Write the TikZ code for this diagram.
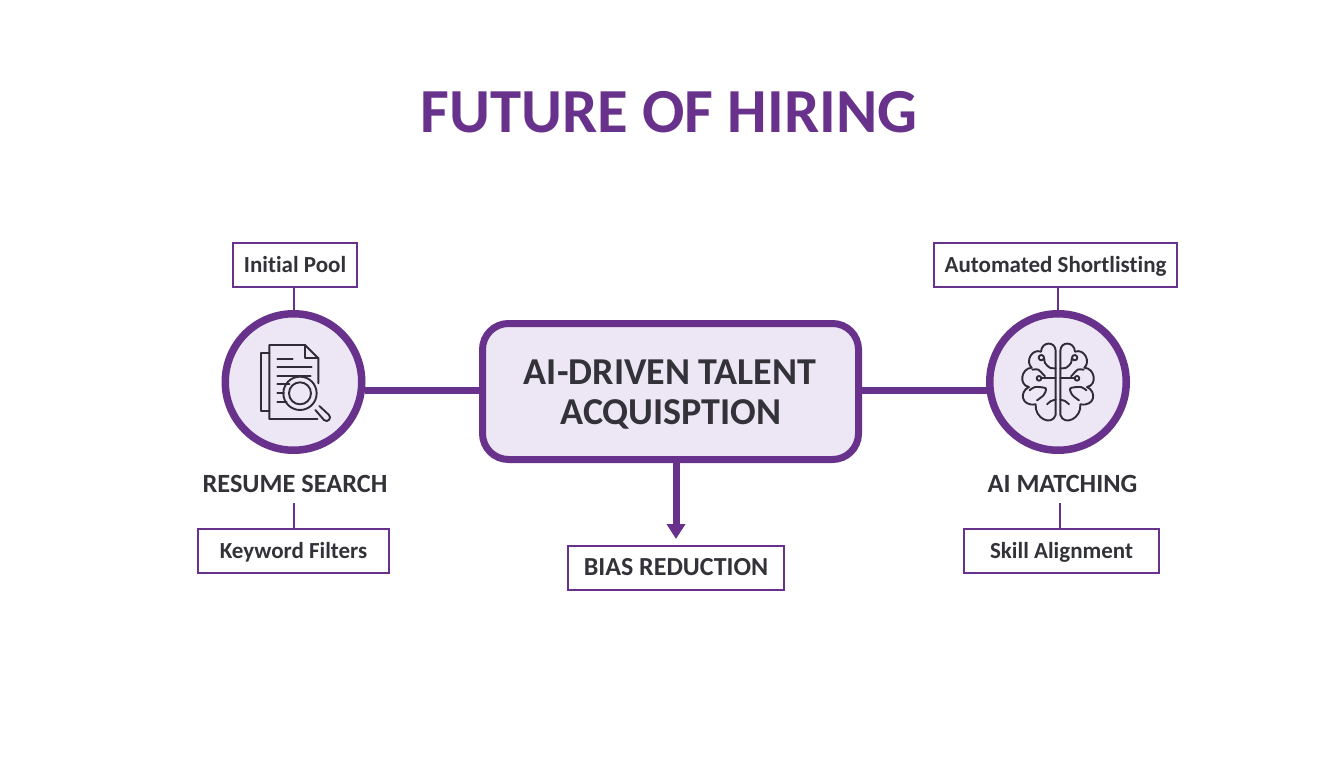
\documentclass[tikz,border=0pt]{standalone}
\usepackage{fontspec}
\setmainfont[Ligatures=CommonOff]{Carlito}
\usetikzlibrary{arrows.meta}
\definecolor{hpurple}{HTML}{68328C}
\definecolor{hfill}{HTML}{ECE6F5}
\definecolor{htext}{HTML}{333238}
\definecolor{hicon}{HTML}{2F2C38}
\newcommand{\fs}[1]{\fontsize{#1}{#1}\selectfont\bfseries}
\newcommand{\brainhalf}{%
  \draw (122,240) -- (122,48) .. controls (122,18) and (80,18) .. (78,50)
     .. controls (50,40) and (30,80) .. (50,98)
     .. controls (18,100) and (10,150) .. (42,156)
     .. controls (12,170) and (18,215) .. (62,208)
     .. controls (58,250) and (110,275) .. (122,240);
  \draw plot[smooth,tension=0.5] coordinates {(122,100) (104,98) (90,84) (88,72)};
  \draw (79,68) circle (8);
  \draw plot[smooth,tension=0.5] coordinates {(52,104) (70,104) (84,118) (90,124)};
  \draw (72,130) circle (7);
  \draw (80,130) -- (122,130);
  \draw plot[smooth,tension=0.5] coordinates {(44,166) (60,156) (92,160) (86,180) (66,196)};
  \draw plot[smooth,tension=0.5] coordinates {(96,208) (108,198) (122,194)};
}
\tikzset{
  lbl/.style={draw=hpurple,line width=2pt,fill=white,text=htext,minimum height=44pt,inner sep=0pt,text height=15pt,text depth=0pt,font=\fs{23}},
  hub/.style={circle,draw=hpurple,line width=7.5pt,fill=hfill,minimum size=136.5pt,inner sep=0pt},
  mainbox/.style={draw=hpurple,line width=7pt,fill=hfill,rounded corners=26pt,minimum width=376pt,minimum height=136pt,inner sep=0pt},
  maintext/.style={text=htext,inner sep=0pt,text height=24.5pt,text depth=0pt,font=\fs{38}},
  captext/.style={text=htext,inner sep=0pt,font=\fs{26.3}},
  thicklink/.style={draw=hpurple,line width=7pt},
  thinlink/.style={draw=hpurple,line width=2pt},
  iconline/.style={draw=hicon,line width=1.9pt,line cap=round,line join=round}
}
\begin{document}
\begin{tikzpicture}[x=1pt,y=-1pt]
\useasboundingbox (0,0) rectangle (1344,768);
\fill[white] (0,0) rectangle (1344,768);
\node[text=hpurple,inner sep=0pt,font=\fs{62.7}] (title) at (669,112) {FUTURE OF HIRING};
\node[mainbox] (core) at (670.5,391.5) {};
\node[maintext] (coreline1) at (670,372) {AI-DRIVEN TALENT};
\node[maintext] (coreline2) at (671,412) {ACQUISPTION};
\node[hub] (left) at (293.5,382) {};
\node[hub] (right) at (1058,382) {};
\node[lbl,minimum width=124pt] (pool) at (295,264.5) {Initial Pool};
\node[lbl,minimum width=243pt] (short) at (1055.5,264.5) {Automated Shortlisting};
\node[captext] (resume) at (295,483.5) {RESUME SEARCH};
\node[captext] (match) at (1062.5,483.5) {AI MATCHING};
\node[lbl,minimum width=191pt] (keys) at (293.5,550.5) {Keyword Filters};
\node[lbl,minimum width=195pt] (skill) at (1061.5,551) {Skill Alignment};
\node[lbl,minimum width=216pt,text height=16.5pt,font=\fs{26}] (bias) at (676,567.5) {BIAS REDUCTION};
\coordinate (biastip) at (676,539);
\coordinate (resumefoot) at (293.5,503);
\coordinate (matchfoot) at (1060,503);
\draw[thicklink] (left.-7) -- (left.-7 -| core.west);
\draw[thicklink] (right.187) -- (right.187 -| core.east);
\draw[thicklink,-{Triangle[length=15pt,width=18pt]}] (core.south -| biastip) -- (biastip);
\draw[thinlink] (pool.south -| left.north) -- (left.north);
\draw[thinlink] (short.south -| right.north) -- (right.north);
\draw[thinlink] (resumefoot) -- (resumefoot |- keys.north);
\draw[thinlink] (matchfoot) -- (matchfoot |- skill.north);
% document and magnifier icon
\begin{scope}[shift={(190,230)},x=0.3333pt,y=-0.3333pt,iconline]
  \draw (238,368) -- (214,368) -- (214,542) -- (238,542);
  \draw (385,460) -- (385,385) -- (345,345) -- (238,345) -- (238,567) -- (382,567);
  \draw (345,345) -- (345,385) -- (385,385);
  \draw (262,387) -- (308,387);
  \draw (262,412) -- (365,412);
  \draw (262,437) -- (362,437);
  \draw (262,462) -- (298,462);
  \draw (262,490) -- (282,490);
  \draw (262,517) -- (290,517);
  \draw (330,490) circle (50);
  \draw (330,490) circle (33);
  \draw (376,540) -- (402,570) .. controls (412,580) and (428,564) .. (416,554) -- (388,528);
\end{scope}
% brain icon
\begin{scope}[shift={(1015,335)},x=0.3333pt,y=-0.3333pt,iconline]
  \brainhalf
\end{scope}
\begin{scope}[shift={(1101,335)},x=-0.3333pt,y=-0.3333pt,iconline]
  \brainhalf
\end{scope}
\end{tikzpicture}
\end{document}
